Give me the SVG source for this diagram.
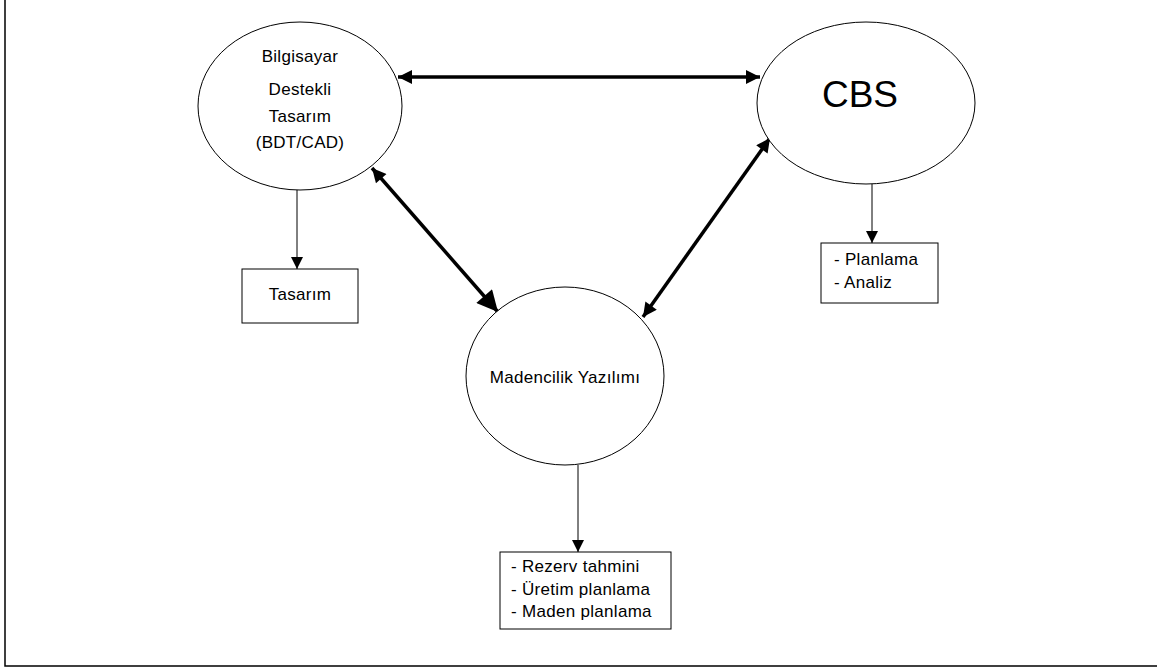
<svg xmlns="http://www.w3.org/2000/svg" width="1157" height="668" viewBox="0 0 1157 668">
<defs>
<style>
.node{fill:#fff;stroke:#000;stroke-width:1}
.t{font-family:"Liberation Sans",Arial,sans-serif;font-size:17px;letter-spacing:0.3px;fill:#000}
.c{text-anchor:middle}
.thin{stroke:#000;stroke-width:1;fill:none}
.thick{stroke:#000;stroke-width:3.5;fill:none}
</style>
<marker id="ah" viewBox="0 0 10 10" refX="10" refY="5" markerWidth="12" markerHeight="12" markerUnits="userSpaceOnUse" orient="auto-start-reverse"><path d="M0,0L10,5L0,10z" fill="#000"/></marker>
<marker id="bh" viewBox="0 0 10 10" refX="10" refY="5" markerWidth="5" markerHeight="4" orient="auto-start-reverse"><path d="M0,0L10,5L0,10z" fill="#000"/></marker>
<marker id="bh2" viewBox="0 0 10 10" refX="10" refY="5" markerWidth="7" markerHeight="6" orient="auto-start-reverse"><path d="M0,0L10,5L0,10z" fill="#000"/></marker>
</defs>
<rect width="1157" height="668" fill="#fff"/>
<path d="M5,0V666H1157" fill="none" stroke="#000" stroke-width="1.5"/>
<g id="connectors">
<line class="thick" x1="398" y1="77" x2="760" y2="77" marker-start="url(#bh)" marker-end="url(#bh)"/>
<line class="thick" x1="372" y1="168" x2="498" y2="312" marker-start="url(#bh)" marker-end="url(#bh2)"/>
<line class="thick" x1="770" y1="138" x2="643" y2="317" marker-start="url(#bh)" marker-end="url(#bh)"/>
<line class="thin" x1="297" y1="190" x2="297" y2="269" marker-end="url(#ah)"/>
<line class="thin" x1="872" y1="184" x2="872" y2="243" marker-end="url(#ah)"/>
<line class="thin" x1="578" y1="465" x2="578" y2="552" marker-end="url(#ah)"/>
</g>
<g id="bdt">
<ellipse class="node" cx="300" cy="106" rx="102" ry="84"/>
<text class="t c" x="300" y="62">Bilgisayar</text>
<text class="t c" x="300" y="95">Destekli</text>
<text class="t c" x="300" y="122">Tasarım</text>
<text class="t c" x="300" y="148">(BDT/CAD)</text>
</g>
<g id="cbs">
<ellipse class="node" cx="866" cy="103" rx="109" ry="81"/>
<text class="t c" x="860" y="107" style="font-size:37px;letter-spacing:0">CBS</text>
</g>
<g id="maden">
<ellipse class="node" cx="565" cy="376" rx="99" ry="89"/>
<text class="t c" x="565" y="383">Madencilik Yazılımı</text>
</g>
<g id="tasarim">
<rect class="node" x="242" y="269" width="116" height="54"/>
<text class="t c" x="300" y="300">Tasarım</text>
</g>
<g id="planlama">
<rect class="node" x="821" y="243" width="117" height="60"/>
<text class="t" x="834" y="265">- Planlama</text>
<text class="t" x="834" y="288">- Analiz</text>
</g>
<g id="rezerv">
<rect class="node" x="500" y="552" width="171" height="77"/>
<text class="t" x="511" y="572">- Rezerv tahmini</text>
<text class="t" x="511" y="595">- Üretim planlama</text>
<text class="t" x="511" y="617">- Maden planlama</text>
</g>
</svg>
